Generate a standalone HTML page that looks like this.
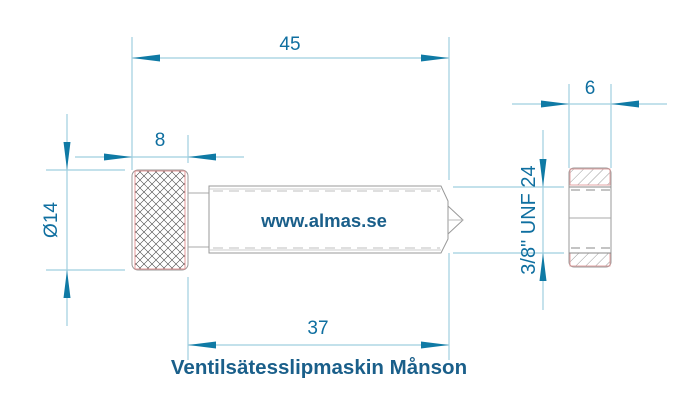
<!DOCTYPE html>
<html><head><meta charset="utf-8"><style>
html,body{margin:0;padding:0;background:#fff;width:700px;height:410px;overflow:hidden}
svg text{font-family:"Liberation Sans",sans-serif;fill:#0f6fa0}
</style></head><body>
<svg width="700" height="410" viewBox="0 0 700 410" xmlns="http://www.w3.org/2000/svg">
<defs>
<pattern id="kn" width="8" height="8" patternUnits="userSpaceOnUse">
<path d="M0,0L8,8M8,0L0,8" stroke="#444" stroke-width="0.6"/>
</pattern>
<pattern id="ht" width="7" height="7" patternUnits="userSpaceOnUse" patternTransform="rotate(45)">
<line x1="0" y1="0" x2="0" y2="7" stroke="#555" stroke-width="0.6"/>
</pattern>
</defs>
<g stroke="#9fcfdf" stroke-width="1.2" fill="none">
<line x1="132" y1="37" x2="132" y2="170"/>
<line x1="449" y1="37" x2="449" y2="180"/>
<line x1="132" y1="58" x2="449" y2="58"/>
<line x1="188" y1="135" x2="188" y2="163"/>
<line x1="75" y1="157" x2="244" y2="157"/>
<line x1="67" y1="114" x2="67" y2="326"/>
<line x1="46" y1="170" x2="125" y2="170"/>
<line x1="46" y1="270" x2="125" y2="270"/>
<line x1="188" y1="277" x2="188" y2="360"/>
<line x1="449" y1="253" x2="449" y2="360"/>
<line x1="188" y1="345" x2="449" y2="345"/>
<line x1="569" y1="84" x2="569" y2="168"/>
<line x1="611" y1="84" x2="611" y2="168"/>
<line x1="512" y1="104" x2="667" y2="104"/>
<line x1="453" y1="187" x2="564" y2="187"/>
<line x1="453" y1="253" x2="564" y2="253"/>
<line x1="543" y1="130" x2="543" y2="310"/>
</g>
<g fill="#0f7aa5">
<polygon points="132,58 160,54.5 160,61.5"/>
<polygon points="449,58 421,54.5 421,61.5"/>
<polygon points="132,157 104,153.5 104,160.5"/>
<polygon points="188,157 216,153.5 216,160.5"/>
<polygon points="67,170 63.5,142 70.5,142"/>
<polygon points="67,270 63.5,298 70.5,298"/>
<polygon points="188,345 216,341.5 216,348.5"/>
<polygon points="449,345 421,341.5 421,348.5"/>
<polygon points="569,104 541,100.5 541,107.5"/>
<polygon points="611,104 639,100.5 639,107.5"/>
<polygon points="543,187 539.5,159 546.5,159"/>
<polygon points="543,253 539.5,281 546.5,281"/>
</g>
<rect x="132" y="170" width="56" height="100" rx="6" fill="#fff" stroke="#999" stroke-width="1"/>
<rect x="135" y="171" width="50" height="98" fill="url(#kn)" stroke="#e08080" stroke-width="0.8"/>
<line x1="188" y1="193" x2="209" y2="193" stroke="#aaa"/>
<line x1="188" y1="247" x2="209" y2="247" stroke="#aaa"/>
<path d="M209,186 L441,186 L448,201 L448,239 L441,253 L209,253 Z" fill="#fff" stroke="#999" stroke-width="1"/>
<line x1="209" y1="189" x2="441" y2="189" stroke="#bbb" stroke-width="0.8"/>
<line x1="209" y1="250" x2="441" y2="250" stroke="#bbb" stroke-width="0.8"/>
<line x1="213" y1="191" x2="440" y2="191" stroke="#aaa" stroke-width="0.8" stroke-dasharray="10,6"/>
<line x1="213" y1="248" x2="440" y2="248" stroke="#aaa" stroke-width="0.8" stroke-dasharray="10,6"/>
<path d="M448,206 L463,220 L448,234" fill="none" stroke="#999"/>
<line x1="448" y1="220" x2="463" y2="220" stroke="#bbb"/>
<text x="324" y="227" font-size="18.5" font-weight="bold" text-anchor="middle" style="fill:#1a5f8a">www.almas.se</text>
<rect x="569" y="168" width="42" height="99" rx="5" fill="#fff" stroke="#999"/>
<rect x="570" y="169" width="40" height="16" fill="url(#ht)" stroke="#e09090" stroke-width="0.8"/>
<rect x="570" y="253" width="40" height="13" fill="url(#ht)" stroke="#e09090" stroke-width="0.8"/>
<line x1="569" y1="187" x2="611" y2="187" stroke="#888"/>
<line x1="569" y1="253" x2="611" y2="253" stroke="#888"/>
<line x1="569" y1="218" x2="611" y2="218" stroke="#aaa"/>
<line x1="571" y1="190" x2="610" y2="190" stroke="#888" stroke-dasharray="9,6"/>
<line x1="571" y1="248" x2="610" y2="248" stroke="#888" stroke-dasharray="9,6"/>
<text x="290" y="50" font-size="19" text-anchor="middle">45</text>
<text x="160" y="146" font-size="19" text-anchor="middle">8</text>
<text x="318" y="334" font-size="19" text-anchor="middle">37</text>
<text x="590" y="94" font-size="19" text-anchor="middle">6</text>
<text transform="translate(57,220) rotate(-90)" font-size="19" text-anchor="middle">Ø14</text>
<text transform="translate(535,220) rotate(-90)" font-size="20" text-anchor="middle">3/8" UNF 24</text>
<text x="319" y="374" font-size="20.5" font-weight="bold" text-anchor="middle" style="fill:#1a5f8a">Ventilsätesslipmaskin Månson</text>
</svg>
</body></html>
